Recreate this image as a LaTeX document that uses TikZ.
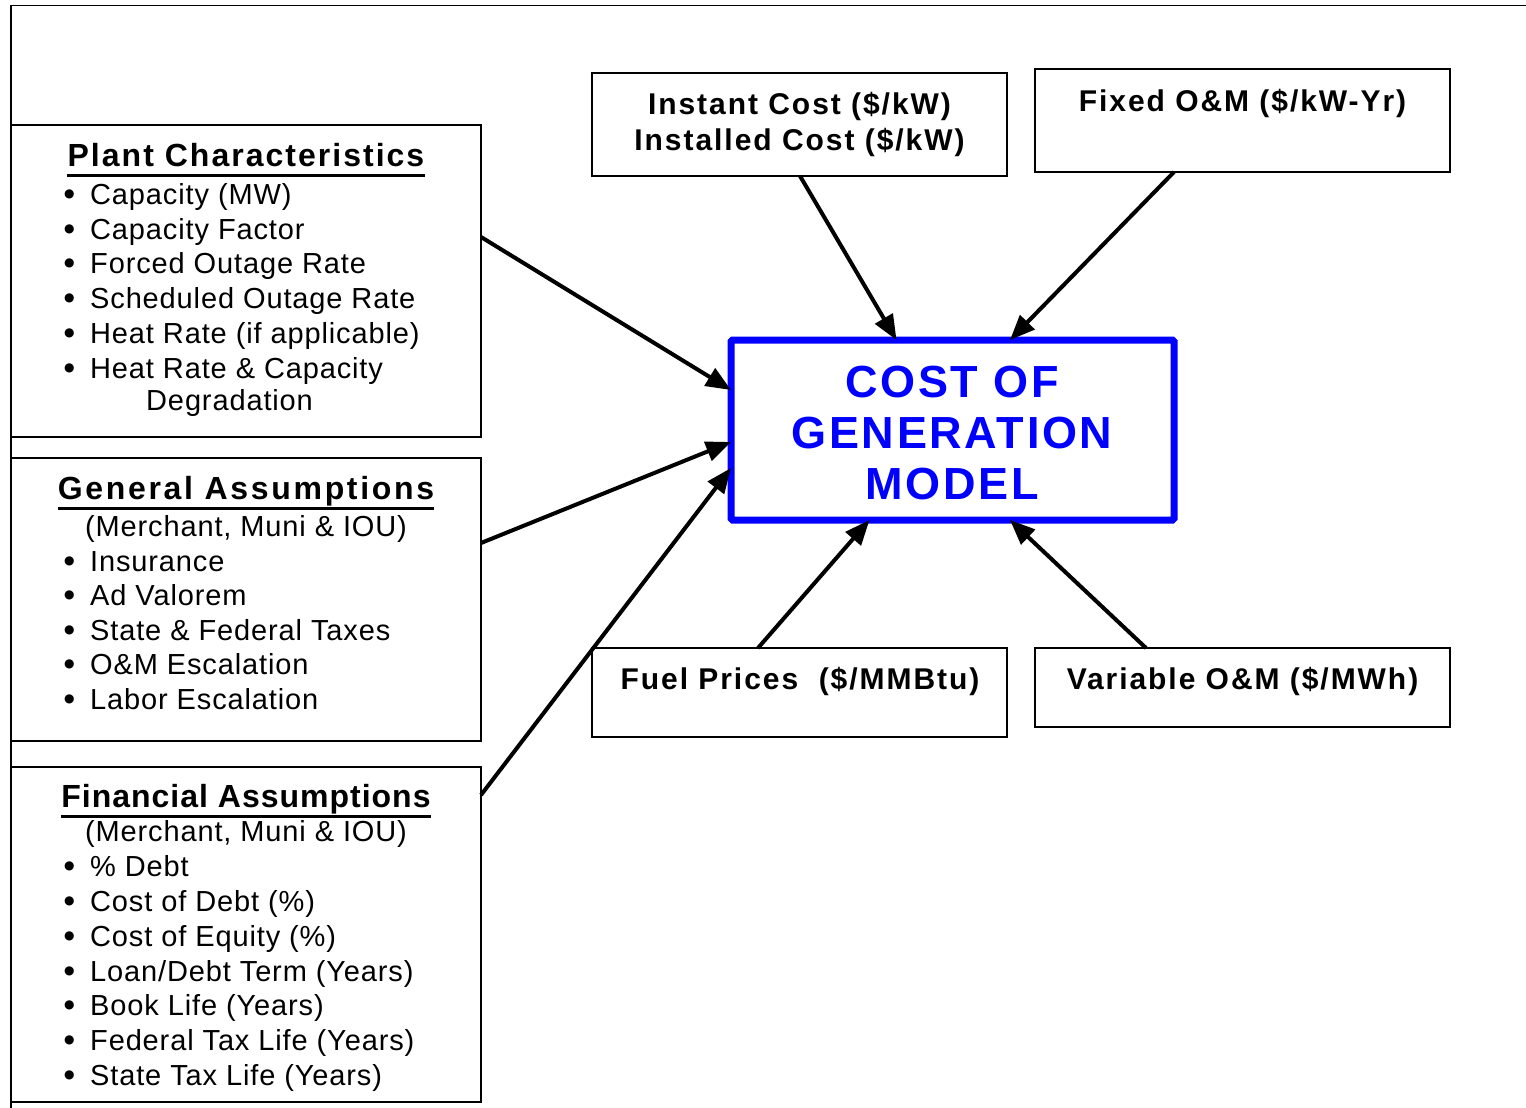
\documentclass[tikz,border=0pt]{standalone}
\usepackage{fontspec}
\setmainfont{Liberation Sans}
\newfontfamily\bodyfam[LetterSpace=3]{Liberation Sans}
\newfontfamily\titlefam[LetterSpace=5]{Liberation Sans}
\newfontfamily\boxfam[LetterSpace=6.5]{Liberation Sans}
\newfontfamily\modelfam[LetterSpace=6]{Liberation Sans}
\newfontfamily\dotfam{DejaVu Sans}
\newcommand\myBody{\bodyfam\fontsize{29pt}{34pt}\selectfont}
\newcommand\myTitle{\titlefam\bfseries\fontsize{32pt}{34pt}\selectfont}
\newcommand\myBox{\boxfam\bfseries\fontsize{30pt}{34pt}\selectfont}
\newcommand\myModel{\modelfam\bfseries\fontsize{45pt}{50pt}\selectfont}
\newcommand\myBul{\makebox[26pt][l]{\raisebox{7pt}{\dotfam\fontsize{12pt}{12pt}\selectfont ●}}}
\usetikzlibrary{arrows.meta,calc}
\definecolor{modelblue}{RGB}{0,0,255}
\tikzset{
  frameline/.style={draw=black, line width=1.8pt},
  boxframe/.style={draw=black, line width=1.8pt, inner sep=0pt, outer sep=0pt},
  modelframe/.style={draw=modelblue, line width=7pt, rounded corners=1.5pt, inner sep=0pt, outer sep=0pt},
  feed/.style={draw=black, line width=4pt, -{Triangle[length=25pt,width=20pt]}},
  bul/.style={anchor=base west, inner sep=0pt, font=\myBody},
  sub/.style={anchor=base, inner sep=0pt, font=\myBody},
  ttl/.style={anchor=base, inner sep=0pt, font=\myTitle},
  boxtxt/.style={anchor=base, inner sep=0pt, font=\myBox},
  modeltxt/.style={anchor=base, inner sep=0pt, font=\myModel, text=modelblue},
  ulline/.style={draw=black, line width=3pt}
}
\begin{document}
\begin{tikzpicture}[x=1pt,y=-1pt]
\useasboundingbox[fill=white] (0,0) rectangle (1526,1108);
% outer frame
\draw[frameline] (1526,5.5) -- (11,5.5) -- (11,1108);

% boxes
\node[boxframe, minimum width=470pt, minimum height=312pt] (plant) at (246,281) {};
\node[boxframe, minimum width=470pt, minimum height=283pt] (general) at (246,599.5) {};
\node[boxframe, minimum width=470pt, minimum height=335pt] (financial) at (246,934.5) {};
\node[boxframe, minimum width=415pt, minimum height=103pt] (instant) at (799.5,124.5) {};
\node[boxframe, minimum width=415pt, minimum height=103pt] (fixed) at (1242.5,120.5) {};
\node[boxframe, minimum width=415pt, minimum height=89pt] (fuel) at (799.5,692.5) {};
\node[boxframe, minimum width=415pt, minimum height=79pt] (variable) at (1242.5,687.5) {};
\node[modelframe, minimum width=443pt, minimum height=180pt] (model) at (952.5,430) {};

% plant characteristics
\node[ttl] (pt) at (246,166) {\addfontfeature{LetterSpace=6.3}Plant Characteristics};
\draw[ulline] ($(pt.base west)+(0,9)$) -- ($(pt.base east)+(0,9)$);
\node[bul] (p1) at (64,204) {\myBul Capacity (MW)};
\node[bul] (p2) at (64,239) {\myBul Capacity Factor};
\node[bul] (p3) at (64,273) {\myBul Forced Outage Rate};
\node[bul] (p4) at (64,308) {\myBul Scheduled Outage Rate};
\node[bul] (p5) at (64,343) {\myBul Heat Rate (if applicable)};
\node[bul] (p6) at (64,378) {\myBul Heat Rate \& Capacity};
\node[bul] (p7) at (146,410) {Degradation};

% general assumptions
\node[ttl] (gt) at (246,499) {\addfontfeature{LetterSpace=8.4}General Assumptions};
\draw[ulline] ($(gt.base west)+(0,9)$) -- ($(gt.base east)+(0,9)$);
\node[sub] (gs) at (246,536) {(Merchant, Muni \& IOU)};
\node[bul] (g1) at (64,571) {\myBul Insurance};
\node[bul] (g2) at (64,605) {\myBul Ad Valorem};
\node[bul] (g3) at (64,640) {\myBul State \& Federal Taxes};
\node[bul] (g4) at (64,674) {\myBul O\&M Escalation};
\node[bul] (g5) at (64,709) {\myBul Labor Escalation};

% financial assumptions
\node[ttl] (ft) at (246,807) {\addfontfeature{LetterSpace=3.1}Financial Assumptions};
\draw[ulline] ($(ft.base west)+(0,9)$) -- ($(ft.base east)+(0,9)$);
\node[sub] (fs) at (246,841) {(Merchant, Muni \& IOU)};
\node[bul] (f1) at (64,876) {\myBul \% Debt};
\node[bul] (f2) at (64,911) {\myBul Cost of Debt (\%)};
\node[bul] (f3) at (64,946) {\myBul Cost of Equity (\%)};
\node[bul] (f4) at (64,981) {\myBul Loan/Debt Term (Years)};
\node[bul] (f5) at (64,1015) {\myBul Book Life (Years)};
\node[bul] (f6) at (64,1050) {\myBul Federal Tax Life (Years)};
\node[bul] (f7) at (64,1085) {\myBul State Tax Life (Years)};

% right boxes text
\node[boxtxt] (it1) at (799.5,114) {Instant Cost (\$/kW)};
\node[boxtxt] (it2) at (799.5,150) {Installed Cost (\$/kW)};
\node[boxtxt] (fx) at (1242.5,111) {Fixed O\&M (\$/kW-Yr)};
\node[boxtxt] (fu) at (800,689) {Fuel Prices\ \ (\$/MMBtu)};
\node[boxtxt] (va) at (1242.5,689) {Variable O\&M (\$/MWh)};

% model text
\node[modeltxt] (m1) at (952,397) {COST OF};
\node[modeltxt] (m2) at (952,448) {GENERATION};
\node[modeltxt] (m3) at (952,499) {MODEL};

% connectors
\draw[feed] ($(plant.east)+(0,-44)$) -- ($(model.west)+(0,-40)$);
\draw[feed] ($(general.east)+(0,-56.5)$) -- ($(model.west)+(0,12)$);
\draw[feed] ($(financial.east)+(0,-139.5)$) -- ($(model.west)+(0,38)$);
\draw[feed] ($(instant.south)+(0.5,0)$) -- ($(model.north)+(-56,0)$);
\draw[feed] ($(fixed.south)+(-68.5,0)$) -- ($(model.north)+(57.5,0)$);
\draw[feed] ($(fuel.north)+(-41.5,0)$) -- ($(model.south)+(-83,0)$);
\draw[feed] ($(variable.north)+(-96.5,0)$) -- ($(model.south)+(57.5,0)$);
\end{tikzpicture}
\end{document}
